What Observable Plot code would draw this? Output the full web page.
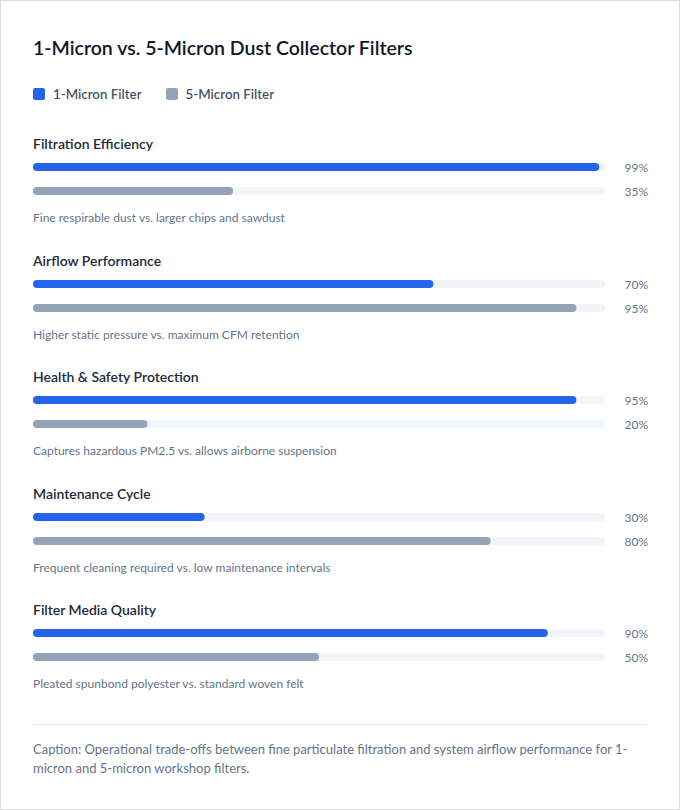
<!DOCTYPE html>
<html>
<head>
<meta charset="utf-8">
<script src="https://cdn.jsdelivr.net/npm/d3@7"></script>
<script src="https://cdn.jsdelivr.net/npm/@observablehq/plot@0.6"></script>
<style>
  html, body { margin: 0; padding: 0; background: #fff; }
  body { font-family: "Segoe UI", Lato, "Noto Sans", sans-serif; }
  .card { box-sizing: border-box; width: 680px; height: 810px; border: 1px solid #dcdcdc; padding: 35px 32px 0 32px; overflow: hidden; }
  h1 { margin: 0; font-size: 19.5px; line-height: 24px; font-weight: 600; color: #0f172a; }
  .legend { display: flex; gap: 24px; margin-top: 24px; height: 20px; align-items: center; }
  .legend .item { display: flex; align-items: center; gap: 8px; font-size: 13.3px; font-weight: 600; color: #475569; }
  .legend .sw { width: 12px; height: 12px; border-radius: 2px; }
  .groups { margin-top: 32px; }
  .group { height: 116.5px; }
  .gtitle { font-size: 14px; line-height: 16px; font-weight: 600; color: #1e293b; }
  .gplot { margin-top: 3px; height: 48px; }
  .gplot svg { display: block; overflow: visible; }
  .gdesc { margin-top: 8px; font-size: 12px; line-height: 14px; color: #64748b; }
  .divider { margin-top: 5.5px; height: 1px; background: #e2e8f0; }
  .caption { margin-top: 14.5px; font-size: 13px; line-height: 19px; color: #64748b; }
</style>
</head>
<body>
<div class="card">
  <h1 id="title"></h1>
  <div class="legend" id="legend"></div>
  <div class="groups" id="groups"></div>
  <div class="divider"></div>
  <div class="caption" id="caption"></div>
</div>
<script>
const title = "1-Micron vs. 5-Micron Dust Collector Filters";
const caption = "Caption: Operational trade-offs between fine particulate filtration and system airflow performance for 1-micron and 5-micron workshop filters.";
const seriesNames = ["1-Micron Filter", "5-Micron Filter"];
const seriesColors = ["#2563eb", "#94a3b8"];
const metrics = ["Filtration Efficiency", "Airflow Performance", "Health & Safety Protection", "Maintenance Cycle", "Filter Media Quality"];
const descriptions = [
  "Fine respirable dust vs. larger chips and sawdust",
  "Higher static pressure vs. maximum CFM retention",
  "Captures hazardous PM2.5 vs. allows airborne suspension",
  "Frequent cleaning required vs. low maintenance intervals",
  "Pleated spunbond polyester vs. standard woven felt"
];
const oneMicron = [99, 70, 95, 30, 90];
const fiveMicron = [35, 95, 20, 80, 50];

document.getElementById("title").textContent = title;
document.getElementById("caption").textContent = caption;

const legend = document.getElementById("legend");
seriesNames.forEach((s, i) => {
  const it = document.createElement("div");
  it.className = "item";
  const sw = document.createElement("div");
  sw.className = "sw";
  sw.style.background = seriesColors[i];
  const t = document.createElement("span");
  t.textContent = s;
  it.append(sw, t);
  legend.append(it);
});

const groups = document.getElementById("groups");
metrics.forEach((m, i) => {
  const rows = [
    {series: seriesNames[0], value: oneMicron[i]},
    {series: seriesNames[1], value: fiveMicron[i]}
  ];
  const g = document.createElement("div");
  g.className = "group";
  const t = document.createElement("div");
  t.className = "gtitle";
  t.textContent = m;
  const p = document.createElement("div");
  p.className = "gplot";
  const chart = Plot.plot({
    width: 614,
    height: 48,
    marginLeft: 0,
    marginRight: 42,
    marginTop: 0,
    marginBottom: 0,
    style: {fontFamily: "'Segoe UI', Lato, 'Noto Sans', sans-serif", background: "transparent", overflow: "visible"},
    x: {domain: [0, 100], axis: null},
    y: {domain: seriesNames, axis: null, padding: 0},
    color: {domain: seriesNames, range: seriesColors},
    marks: [
      Plot.barX(rows, {y: "series", x1: 0, x2: 100, fill: "#f1f5f9", insetTop: 8, insetBottom: 8, rx: 4}),
      Plot.barX(rows, {y: "series", x1: 0, x2: "value", fill: "series", insetTop: 8, insetBottom: 8, rx: 4}),
      Plot.text(rows, {y: "series", x: 100, text: d => d.value + "%", dx: 19, dy: 1, textAnchor: "start", fill: "#64748b", fontSize: 12})
    ]
  });
  p.append(chart);
  const d = document.createElement("div");
  d.className = "gdesc";
  d.textContent = descriptions[i];
  g.append(t, p, d);
  groups.append(g);
});
</script>
</body>
</html>
